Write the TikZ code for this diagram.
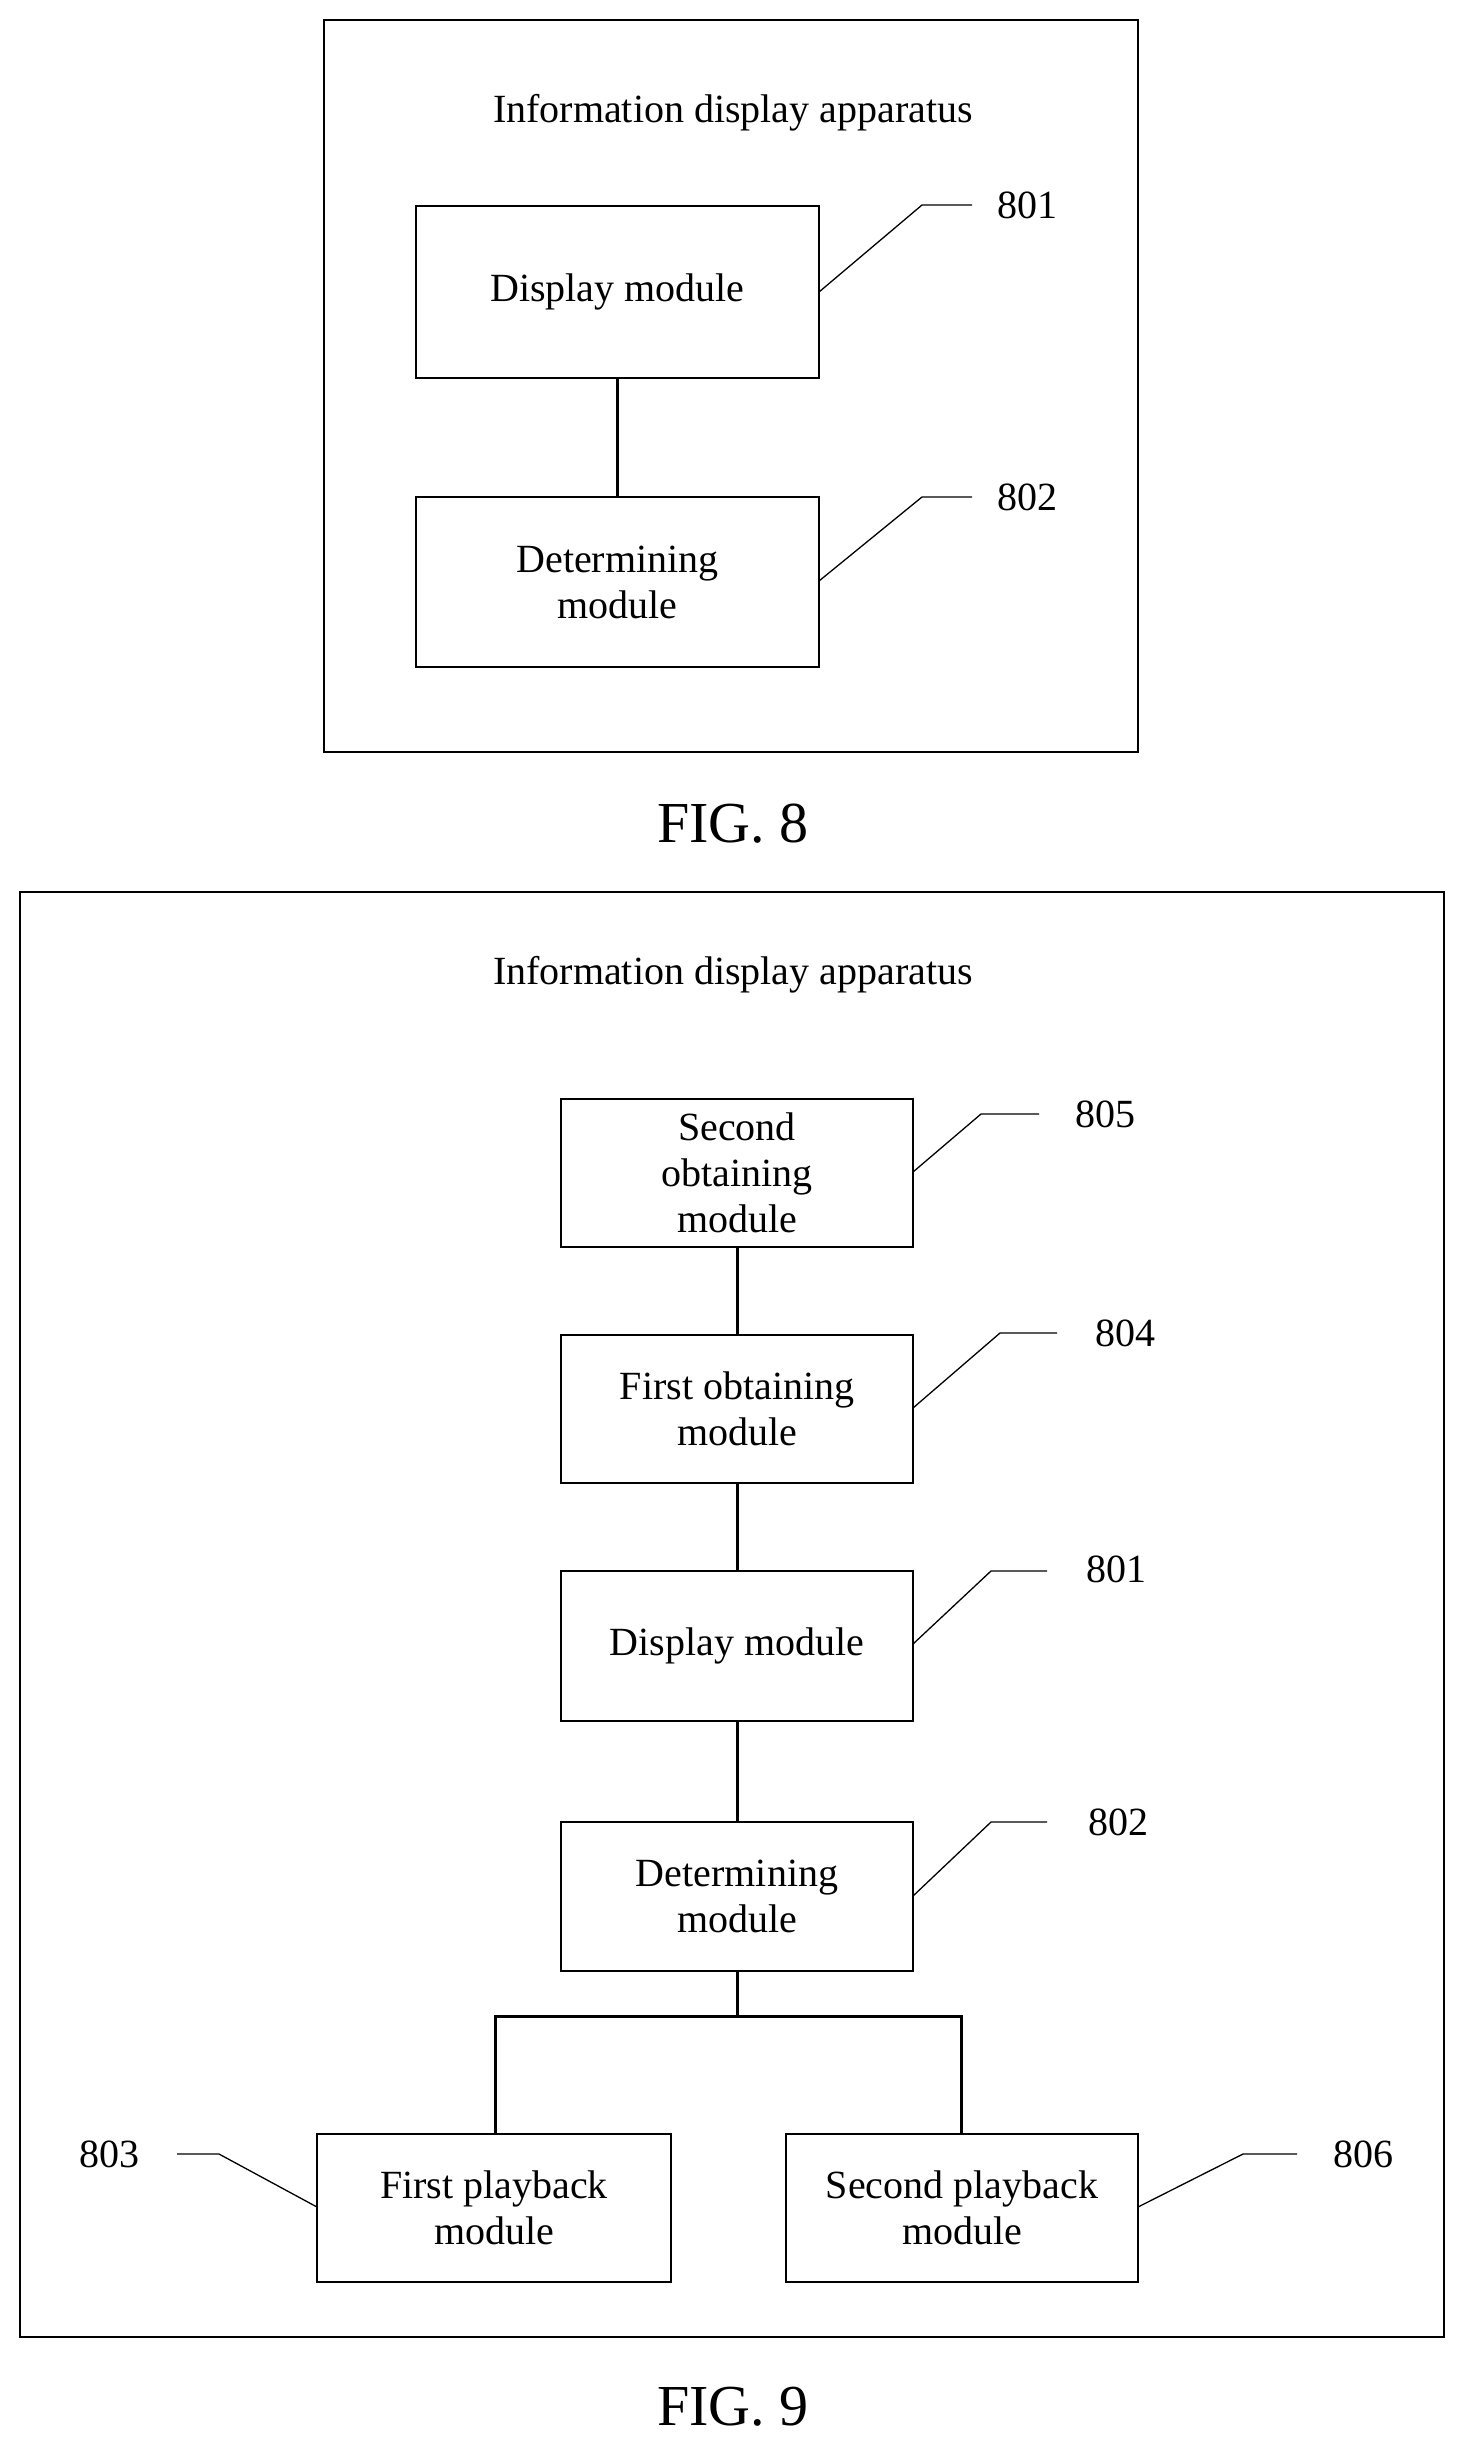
\documentclass[tikz,border=0pt]{standalone}
\usepackage{fontspec}
\setmainfont{Liberation Serif}
\begin{document}
\begin{tikzpicture}[x=1pt,y=-1pt,
  box/.style={draw,line width=1.8pt},
  txt/.style={font=\fontsize{40}{46}\selectfont,align=center},
  lab/.style={font=\fontsize{40}{46}\selectfont},
  lead/.style={line width=1.3pt},
  conn/.style={line width=3pt},
  figcap/.style={font=\fontsize{58}{64}\selectfont}]
\useasboundingbox (0,0) rectangle (1466,2453);
% FIG 8
\draw[box] (324,20) rectangle (1138,752);
\node[txt] (t8) at (733,113) {Information display apparatus};
\draw[box] (416,206) rectangle (819,378);
\node[txt] (a801) at (617.5,292) {Display module};
\draw[box] (416,497) rectangle (819,667);
\node[txt] (a802) at (617.5,582) {Determining\\module};
\coordinate (a801t) at (617.5,378); \coordinate (a802t) at (617.5,497);
\draw[conn] (a801t) -- (a802t);
\node[lab] (l801) at (1027,205) {801};
\node[lab] (l802) at (1027,497) {802};
\coordinate (p1) at (819,292); \coordinate (p2) at (819,581);
\draw[lead] (p1) -- (922,205) -- (972,205);
\draw[lead] (p2) -- (922,497) -- (972,497);
\node[figcap] (f8) at (733,824) {FIG. 8};
% FIG 9
\draw[box] (20,892) rectangle (1444,2337);
\node[txt] (t9) at (733,975) {Information display apparatus};
\draw[box] (561,1099) rectangle (913,1247);
\node[txt] (b805) at (737,1173) {Second\\obtaining\\module};
\draw[box] (561,1335) rectangle (913,1483);
\node[txt] (b804) at (737,1409) {First obtaining\\module};
\draw[box] (561,1571) rectangle (913,1721);
\node[txt] (b801) at (737,1646) {Display module};
\draw[box] (561,1822) rectangle (913,1971);
\node[txt] (b802) at (737,1896) {Determining\\module};
\draw[box] (317,2134) rectangle (671,2282);
\node[txt] (b803) at (494,2208) {First playback\\module};
\draw[box] (786,2134) rectangle (1138,2282);
\node[txt] (b806) at (962,2208) {Second playback\\module};
\draw[conn] (737,1247) -- (737,1335);
\draw[conn] (737,1483) -- (737,1571);
\draw[conn] (737,1721) -- (737,1822);
\draw[conn] (737,1971) -- (737,2016);
\draw[conn] (495,2134) -- (495,2016) -- (961,2016) -- (961,2134);
\node[lab] (l805) at (1105,1114) {805};
\node[lab] (l804) at (1125,1333) {804};
\node[lab] (l9801) at (1116,1569) {801};
\node[lab] (l9802) at (1118,1822) {802};
\node[lab] (l803) at (109,2154) {803};
\node[lab] (l806) at (1363,2154) {806};
\draw[lead] (913,1172) -- (981,1114) -- (1039,1114);
\draw[lead] (913,1408) -- (1000,1333) -- (1057,1333);
\draw[lead] (913,1644) -- (991,1571) -- (1047,1571);
\draw[lead] (913,1896) -- (991,1822) -- (1047,1822);
\draw[lead] (177,2154) -- (219,2154) -- (317,2207);
\draw[lead] (1138,2207) -- (1243,2154) -- (1297,2154);
\node[figcap] (f9) at (733,2407) {FIG. 9};
\end{tikzpicture}
\end{document}
